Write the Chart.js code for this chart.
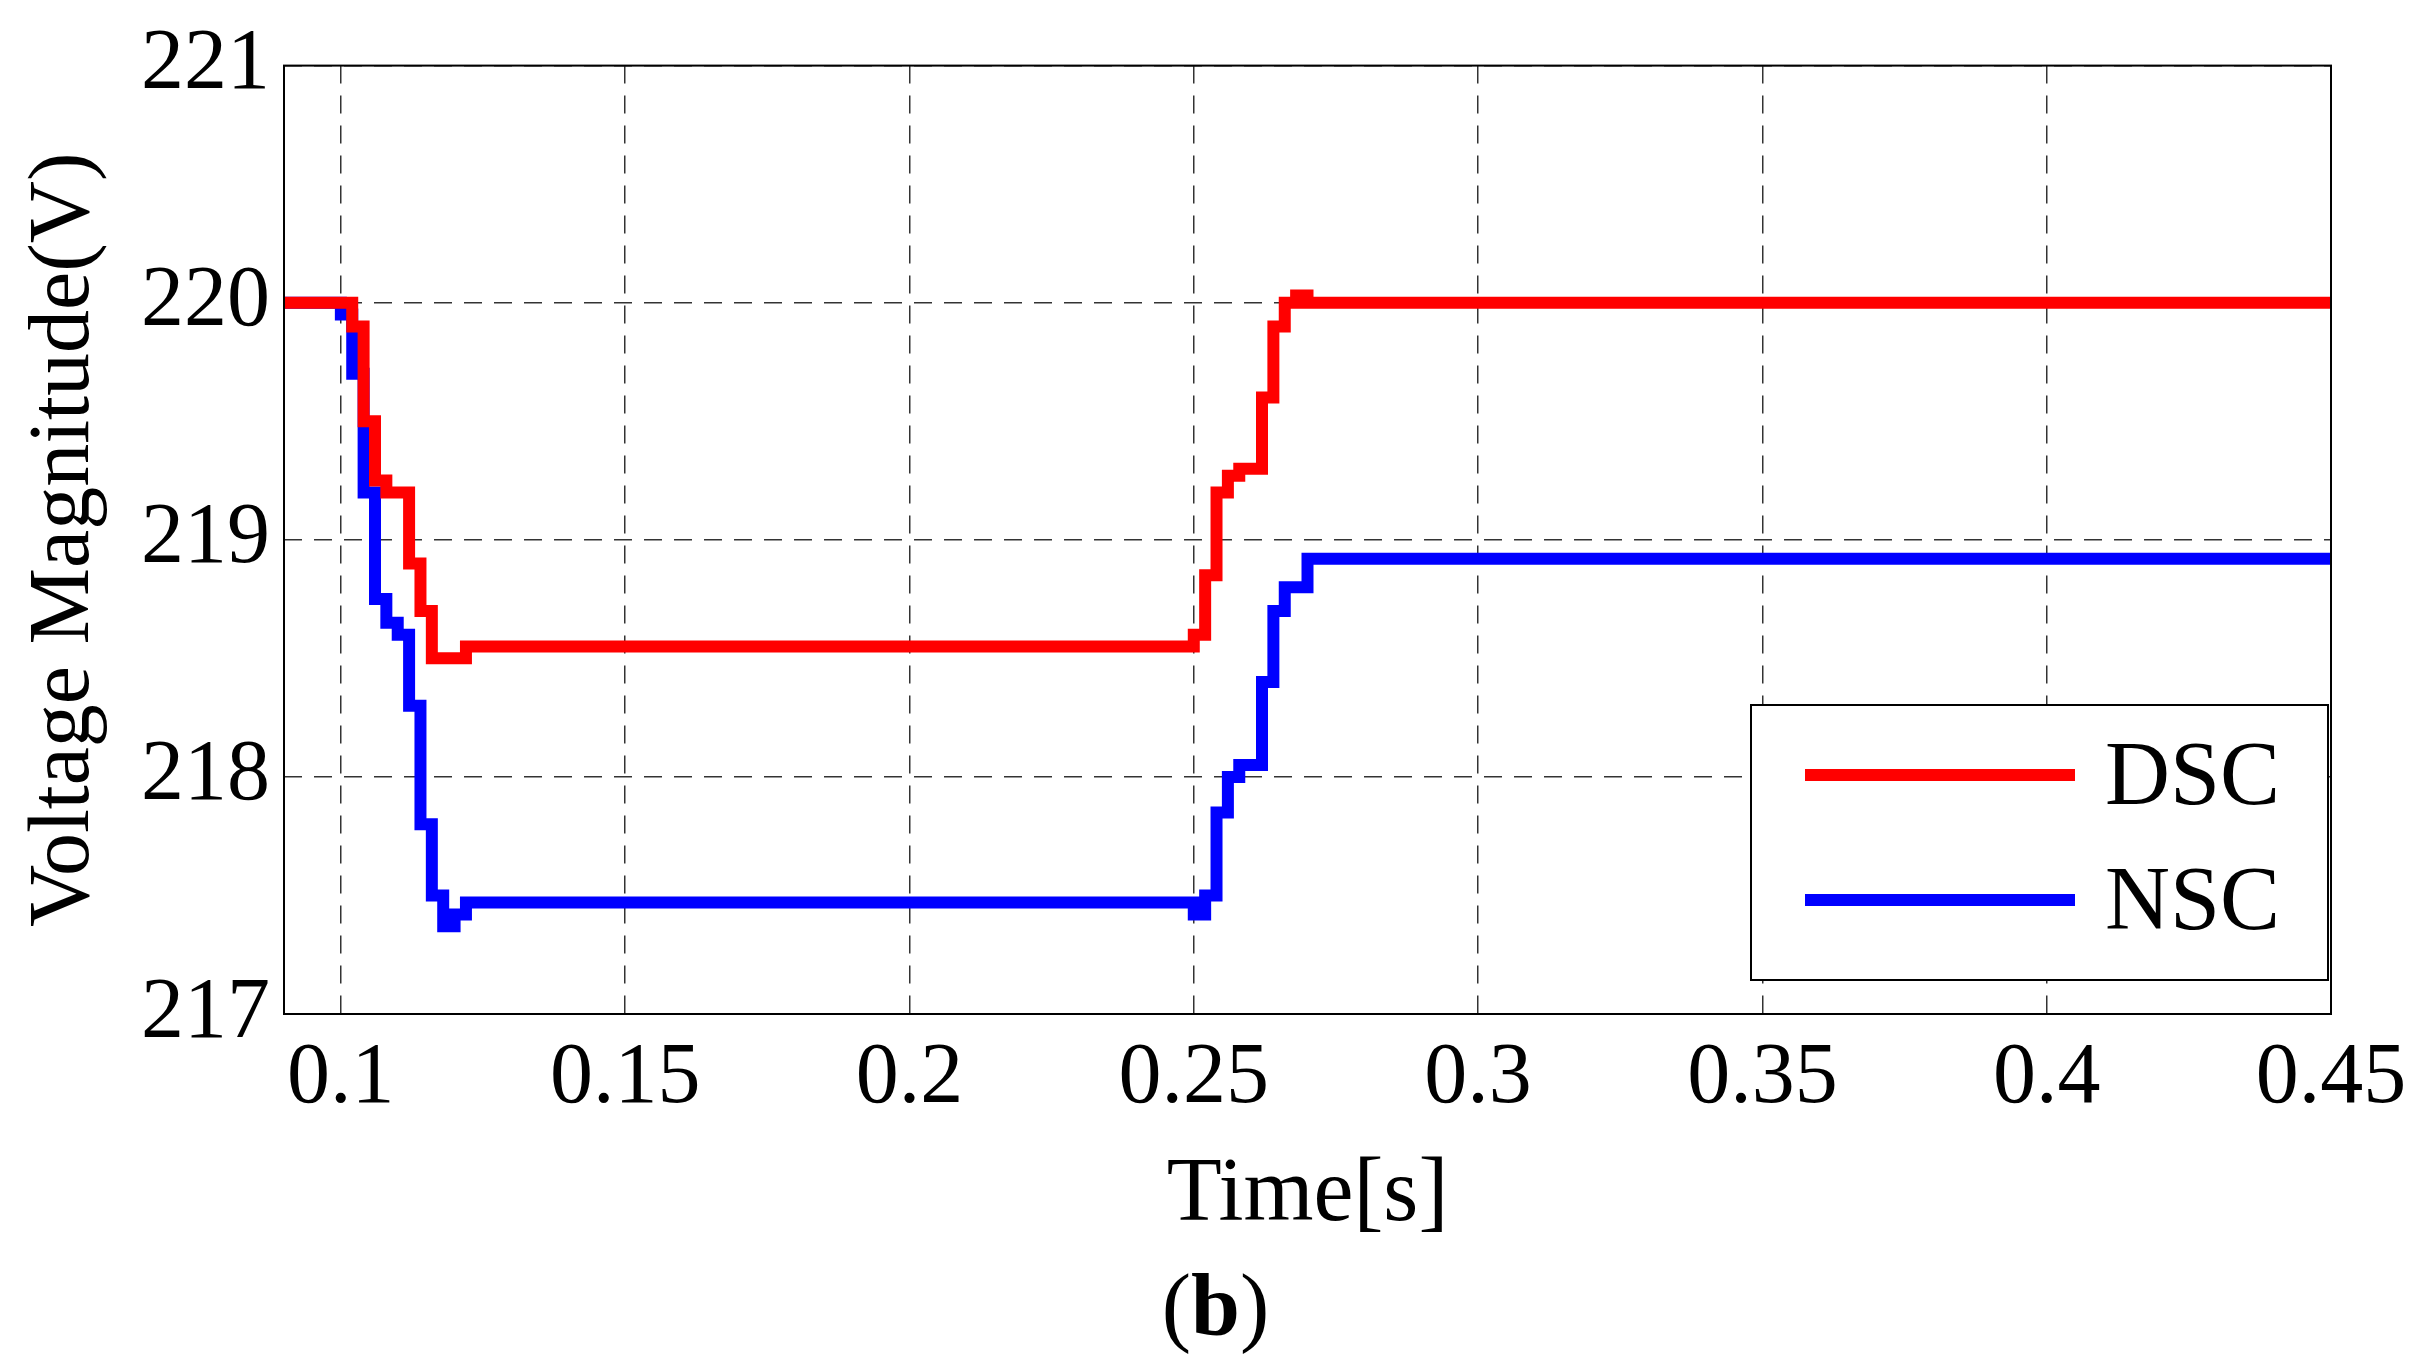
<!DOCTYPE html>
<html><head><meta charset="utf-8">
<script src="https://cdn.jsdelivr.net/npm/chart.js@4.4.0/dist/chart.umd.min.js"></script>
<style>html,body{margin:0;padding:0;background:#fff;width:2431px;height:1354px;overflow:hidden}
#w{position:absolute;left:0;top:0;width:2431px;height:1354px}
#b{position:absolute;left:0;width:2431px;top:1255px;text-align:center;font:88px "Liberation Serif",serif;}
</style></head><body>
<div id="w"><canvas id="c" width="2431" height="1354"></canvas></div>
<div id="b">(<b>b</b>)</div>
<script>
const xTicks=[0.1,0.15,0.2,0.25,0.3,0.35,0.4,0.45];
const yTicks=[217,218,219,220,221];
const dscT=[0.09,0.102,0.104,0.106,0.108,0.112,0.114,0.116,0.118,0.122,0.124,0.25,0.252,0.254,0.256,0.258,0.262,0.264,0.266,0.268,0.27,0.272,0.45];
const dscV=[220,220,219.9,219.5,219.25,219.2,218.9,218.7,218.5,218.5,218.55,218.55,218.6,218.85,219.2,219.27,219.3,219.6,219.9,220.0,220.03,220.0,220];
const nscT=[0.09,0.1,0.102,0.104,0.106,0.108,0.11,0.112,0.114,0.116,0.118,0.12,0.122,0.125,0.25,0.252,0.254,0.256,0.258,0.262,0.264,0.266,0.27,0.274,0.276,0.45];
const nscV=[220,220,219.95,219.7,219.2,218.75,218.65,218.6,218.3,217.8,217.5,217.37,217.42,217.47,217.47,217.42,217.5,217.85,218.0,218.05,218.4,218.7,218.8,218.92,218.92,218.92];
const F='"Liberation Serif", serif';
const legendPlug={id:'lg',afterDraw(ch){const c=ch.ctx;c.save();
 c.fillStyle='#fff';c.fillRect(1751,705,577,275);c.strokeStyle='#000';c.lineWidth=2;c.strokeRect(1751,705,577,275);
 ch.data.datasets.forEach((d,i)=>{const y=775+i*125;c.strokeStyle=d.borderColor;c.lineWidth=12;c.beginPath();c.moveTo(1805,y);c.lineTo(2075,y);c.stroke();
 c.fillStyle='#000';c.font='90px '+F;c.textBaseline='middle';c.fillText(d.label,2105,y+5);});c.restore();}};
new Chart(document.getElementById('c'),{type:'line',
 data:{datasets:[
  {label:'DSC',data:dscT.map((t,i)=>({x:t,y:dscV[i]})),borderColor:'#ff0000',borderWidth:12,pointRadius:0,stepped:'after'},
  {label:'NSC',data:nscT.map((t,i)=>({x:t,y:nscV[i]})),borderColor:'#0000ff',borderWidth:12,pointRadius:0,stepped:'after'}]},
 options:{responsive:false,animation:false,devicePixelRatio:1,
  layout:{padding:{left:10,top:28,right:100,bottom:100}},
  plugins:{legend:{display:false},tooltip:{enabled:false}},
  scales:{
   x:{type:'linear',min:0.09,max:0.45,afterBuildTicks:s=>{s.ticks=xTicks.map(v=>({value:v}))},
    afterFit:s=>{s.height=240},
    border:{display:false,dash:[18,12]},
    grid:{color:'#333',lineWidth:1.5,drawTicks:false},
    ticks:{color:'#000',font:{family:F,size:86},padding:14,maxRotation:0,callback:v=>String(v)},
    title:{display:true,text:'Time[s]',color:'#000',font:{family:F,size:90},padding:{top:0}}},
   y:{min:217,max:221,afterBuildTicks:s=>{s.ticks=yTicks.map(v=>({value:v}))},
    afterFit:s=>{s.width=274},
    border:{display:false,dash:[18,12]},
    grid:{color:'#333',lineWidth:1.5,drawTicks:false},
    ticks:{color:'#000',font:{family:F,size:86},padding:14},
    title:{display:true,text:'Voltage Magnitude(V)',color:'#000',font:{family:F,size:86},padding:{bottom:0}}}
  }},
 plugins:[legendPlug,{id:'frame',beforeDraw(ch){const c=ch.ctx;c.save();c.fillStyle='#fff';c.fillRect(0,0,ch.width,ch.height);c.restore();},
  afterDatasetsDraw(ch){const a=ch.chartArea,c=ch.ctx;c.save();c.strokeStyle='#000';c.lineWidth=2;c.strokeRect(a.left,a.top,a.right-a.left,a.bottom-a.top);c.restore();}}]
});
</script></body></html>
